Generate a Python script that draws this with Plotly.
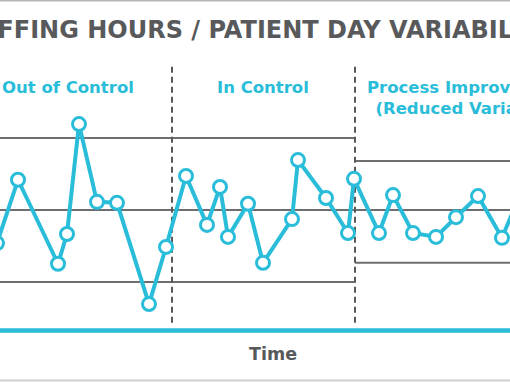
import plotly.graph_objects as go

# ---- data ----
time = [-0.3, 1.8, 5.8, 6.7, 7.9, 9.7, 11.7, 14.9, 16.6, 18.6, 20.7, 22.0, 22.8, 24.8,
        26.3, 29.2, 29.8, 32.6, 34.8, 35.4, 37.9, 39.3, 41.3, 43.6, 45.6, 47.8, 50.2, 52.2]
hours = [9.31, 10.63, 8.88, 9.50, 11.79, 10.17, 10.15, 8.04, 9.23, 10.71, 9.69, 10.48, 9.44, 10.13,
         8.90, 9.81, 11.04, 10.25, 9.52, 10.65, 9.52, 10.31, 9.52, 9.44, 9.85, 10.29, 9.42, 10.42]
center_line = 10.0
ucl_phase12, lcl_phase12 = 11.5, 8.5
ucl_phase3, lcl_phase3 = 11.02, 8.90
phase_breaks = [17.2, 35.5]
phase_labels = ["Out of Control", "In Control", "Process Improvement<br>(Reduced Variation)"]
phase_label_x = [6.8, 26.3, 46.8]
phase_label_y = [12.56, 12.56, 12.33]
title_text = "STAFFING HOURS / PATIENT DAY VARIABILITY"
x_title = "Time"

CYAN = "#29bdd9"
GRAY = "#58595b"
LINE_GRAY = "#6d6e71"
X0, X1 = 0, 51
Y0, Y1 = 6.4167, 14.375

fig = go.Figure()

# control limits
lim_style = dict(color=LINE_GRAY, width=2)
fig.add_trace(go.Scatter(x=[-1, 53], y=[center_line]*2, mode="lines", line=lim_style, hoverinfo="skip"))
fig.add_trace(go.Scatter(x=[-1, phase_breaks[1]], y=[ucl_phase12]*2, mode="lines", line=lim_style, hoverinfo="skip"))
fig.add_trace(go.Scatter(x=[-1, phase_breaks[1]], y=[lcl_phase12]*2, mode="lines", line=lim_style, hoverinfo="skip"))
fig.add_trace(go.Scatter(x=[phase_breaks[1], 53], y=[ucl_phase3]*2, mode="lines", line=lim_style, hoverinfo="skip"))
fig.add_trace(go.Scatter(x=[phase_breaks[1], 53], y=[lcl_phase3]*2, mode="lines", line=lim_style, hoverinfo="skip"))

# phase separators
for b in phase_breaks:
    fig.add_trace(go.Scatter(x=[b, b], y=[7.65, 13.02], mode="lines",
                             line=dict(color=GRAY, width=2, dash="6px,4px"), hoverinfo="skip"))

# time axis line
fig.add_trace(go.Scatter(x=[-1, 53], y=[7.49, 7.49], mode="lines",
                         line=dict(color=CYAN, width=4.5), hoverinfo="skip"))

# data series
fig.add_trace(go.Scatter(x=time, y=hours, mode="lines+markers",
                         line=dict(color=CYAN, width=4),
                         marker=dict(size=13, color="white", line=dict(color=CYAN, width=3))))

annotations = []
for lbl, lx, ly in zip(phase_labels, phase_label_x, phase_label_y):
    annotations.append(dict(x=lx, y=ly, xref="x", yref="y", text=lbl, showarrow=False,
                            font=dict(family="DejaVu Sans", size=16.5, color=CYAN, weight="bold"),
                            xanchor="center", yanchor="middle"))
annotations.append(dict(x=25.15, y=13.74, xref="x", yref="y", text=title_text, showarrow=False,
                        font=dict(family="DejaVu Sans", size=24, color=GRAY, weight="bold"),
                        xanchor="center", yanchor="middle"))
annotations.append(dict(x=27.3, y=7.0, xref="x", yref="y", text=x_title, showarrow=False,
                        font=dict(family="DejaVu Sans", size=17.5, color=GRAY, weight="bold"),
                        xanchor="center", yanchor="middle"))

fig.update_layout(
    width=510, height=382,
    margin=dict(l=0, r=0, t=0, b=0),
    paper_bgcolor="white", plot_bgcolor="white",
    showlegend=False,
    xaxis=dict(range=[X0, X1], visible=False, fixedrange=True),
    yaxis=dict(range=[Y0, Y1], visible=False, fixedrange=True),
    annotations=annotations,
    shapes=[
        dict(type="line", xref="paper", yref="paper", x0=0, x1=1, y0=1, y1=1,
             line=dict(color="#b5b5b5", width=3)),
        dict(type="line", xref="paper", yref="paper", x0=0, x1=1, y0=0.004, y1=0.004,
             line=dict(color="#d0d0d0", width=2)),
    ],
)

fig.write_html("out.html", config={"displayModeBar": False},
               post_script="document.body.style.margin='0';document.body.style.overflow='hidden';")
